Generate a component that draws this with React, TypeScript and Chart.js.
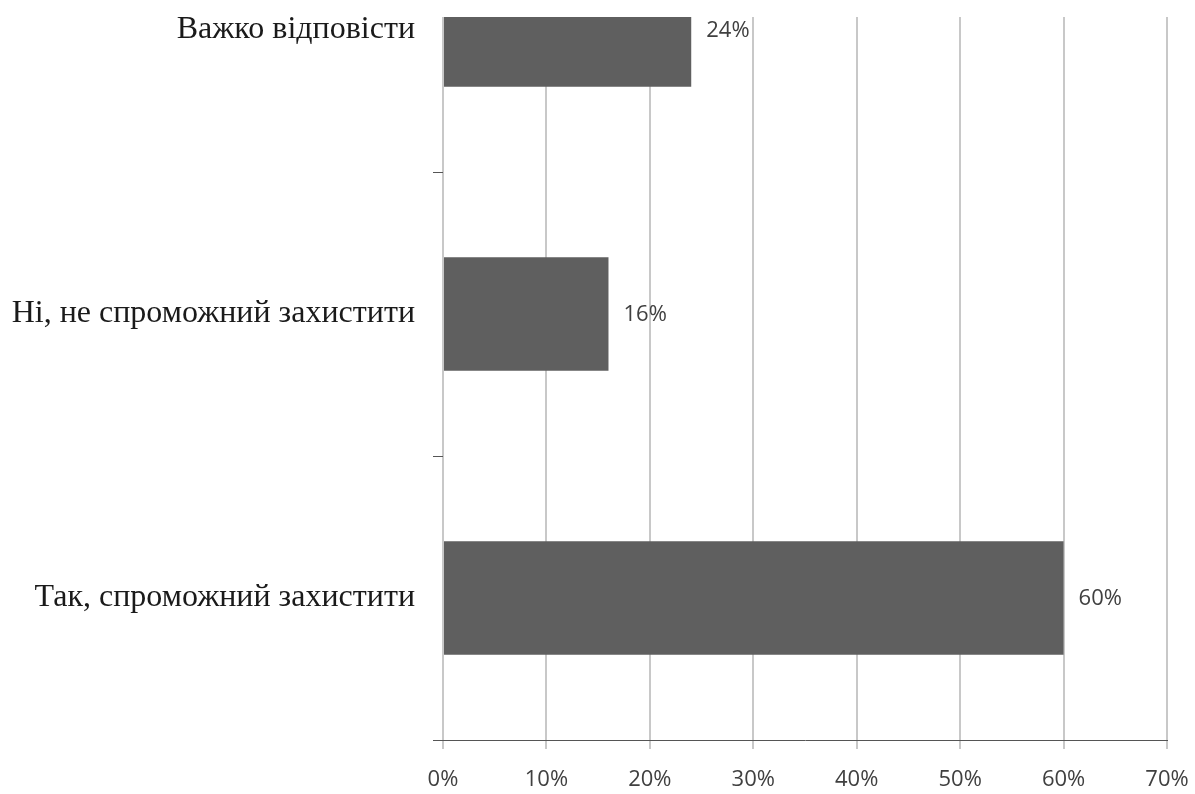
import React, { useEffect, useRef } from "react";
import { Chart, registerables } from "chart.js";

Chart.register(...registerables);

// Categories from bottom (index 0) to top (index 2)
const categories: string[] = [
  "Так, спроможний захистити",
  "Ні, не спроможний захистити",
  "Важко відповісти",
];
const values: number[] = [60, 16, 24];
const positions: number[] = [0, 1, 2];
const xTicks: number[] = [0, 10, 20, 30, 40, 50, 60, 70];

const valueLabelPlugin = {
  id: "valueLabels",
  afterDatasetsDraw(chart: any) {
    const ctx = chart.ctx;
    const meta = chart.getDatasetMeta(0);
    ctx.save();
    ctx.font = "22px 'Open Sans', sans-serif";
    ctx.fillStyle = "#404040";
    ctx.textAlign = "left";
    ctx.textBaseline = "middle";
    meta.data.forEach((bar: any, i: number) => {
      ctx.fillText(values[i] + "%", bar.x + 15, bar.y + 1);
    });
    ctx.restore();
  },
};

export default function App() {
  const ref = useRef<HTMLCanvasElement | null>(null);

  useEffect(() => {
    if (!ref.current) return;
    const chart = new Chart(ref.current, {
      type: "bar",
      data: {
        datasets: [
          {
            data: values.map((v, i) => ({ x: v, y: positions[i] })),
            backgroundColor: "#5f5f5f",
            borderWidth: 0,
            categoryPercentage: 1,
            barPercentage: 0.4,
            clip: 0,
          } as any,
        ],
      },
      options: {
        indexAxis: "y",
        animation: false,
        responsive: true,
        maintainAspectRatio: false,
        layout: { padding: { top: 17, right: 28, bottom: 0, left: 0 } },
        plugins: {
          legend: { display: false },
          tooltip: { enabled: false },
        },
        scales: {
          x: {
            type: "linear",
            min: 0,
            max: 70,
            offset: false,
            afterBuildTicks: (scale: any) => {
              scale.ticks = xTicks.map((v) => ({ value: v }));
            },
            afterFit: (scale: any) => {
              scale.height = 54;
              scale.paddingLeft = 0;
              scale.paddingRight = 0;
            },
            ticks: {
              callback: (v: any) => v + "%",
              font: { family: "'Open Sans', sans-serif", size: 22 },
              color: "#404040",
              padding: 18,
              maxRotation: 0,
            },
            grid: {
              color: "#c8c8c8",
              lineWidth: 2,
              tickLength: 9,
              tickColor: "#c8c8c8",
              drawTicks: true,
            },
            border: { display: true, color: "#555555", width: 1 },
          },
          y: {
            type: "linear",
            min: -0.5,
            max: 2.046,
            offset: false,
            afterBuildTicks: (scale: any) => {
              scale.ticks = positions.map((v) => ({ value: v }));
            },
            afterFit: (scale: any) => {
              scale.width = 443;
              scale.paddingTop = 0;
              scale.paddingBottom = 0;
            },
            ticks: {
              callback: (v: any) => categories[v as number] ?? "",
              font: { family: "'Liberation Serif', serif", size: 32 },
              color: "#1a1a1a",
              padding: 18,
            },
            grid: {
              offset: true,
              drawOnChartArea: false,
              drawTicks: true,
              tickLength: 10,
              tickColor: "#555555",
              lineWidth: 1,
            },
            border: { display: false },
          },
        },
      },
      plugins: [valueLabelPlugin],
    });
    return () => chart.destroy();
  }, []);

  return (
    <div style={{ position: "absolute", left: 0, top: 0, width: 1195, height: 794, background: "#fff" }}>
      <canvas ref={ref} />
    </div>
  );
}
